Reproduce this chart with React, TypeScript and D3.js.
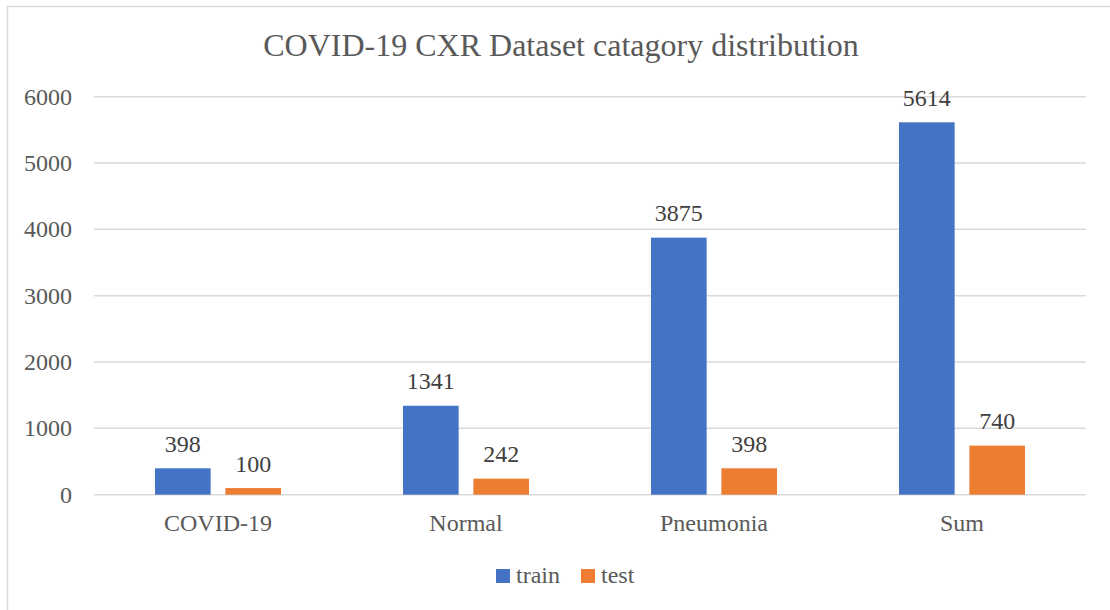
import React, { useEffect, useRef } from 'react';
import * as d3 from 'd3';

const categories = ['COVID-19', 'Normal', 'Pneumonia', 'Sum'];
const trainValues = [398, 1341, 3875, 5614];
const testValues = [100, 242, 398, 740];
const seriesNames = ['train', 'test'];
const yTicks = [0, 1000, 2000, 3000, 4000, 5000, 6000];

const App = () => {
  const ref = useRef<SVGSVGElement | null>(null);

  useEffect(() => {
    if (!ref.current) return;
    const svg = d3.select(ref.current);
    svg.selectAll('*').remove();

    const width = 1110;
    const height = 610;
    const font = '"Liberation Serif", "Times New Roman", serif';
    const textColor = '#595959';
    const colors = ['#4472C4', '#ED7D31'];

    // outer frame
    svg.append('rect')
      .attr('x', 7.5).attr('y', 6.5)
      .attr('width', width + 10).attr('height', height + 10)
      .attr('fill', 'white')
      .attr('stroke', '#d9d9d9').attr('stroke-width', 1.5);

    const left = 94, right = 1086, top = 96.7, bottom = 494.7;

    const x = d3.scaleBand().domain(categories).range([left, right]);
    const x1 = d3.scaleBand().domain(seriesNames).range([-63, 63]).paddingInner(0.21);
    const y = d3.scaleLinear().domain([0, 6000]).range([bottom, top]);

    // gridlines
    svg.append('g').selectAll('line').data(yTicks).enter().append('line')
      .attr('x1', left).attr('x2', right)
      .attr('y1', d => y(d)).attr('y2', d => y(d))
      .attr('stroke', '#d9d9d9').attr('stroke-width', 1.5);

    // y tick labels
    svg.append('g').selectAll('text').data(yTicks).enter().append('text')
      .attr('x', 72).attr('y', d => y(d) + 8)
      .attr('text-anchor', 'end')
      .style('font-family', font).style('font-size', '24px').attr('fill', textColor)
      .text(d => d);

    const series = [trainValues, testValues];
    series.forEach((vals, si) => {
      const g = svg.append('g');
      g.selectAll('rect').data(vals).enter().append('rect')
        .attr('x', (d, i) => (x(categories[i]) as number) + x.bandwidth() / 2 + (x1(seriesNames[si]) as number))
        .attr('y', d => y(d))
        .attr('width', x1.bandwidth())
        .attr('height', d => bottom - y(d))
        .attr('fill', colors[si]);
      g.selectAll('text').data(vals).enter().append('text')
        .attr('x', (d, i) => (x(categories[i]) as number) + x.bandwidth() / 2 + (x1(seriesNames[si]) as number) + x1.bandwidth() / 2)
        .attr('y', d => y(d) - 16.5)
        .attr('text-anchor', 'middle')
        .style('font-family', font).style('font-size', '24px').attr('fill', '#404040')
        .text(d => d);
    });

    // category labels
    svg.append('g').selectAll('text').data(categories).enter().append('text')
      .attr('x', d => (x(d) as number) + x.bandwidth() / 2)
      .attr('y', 531)
      .attr('text-anchor', 'middle')
      .style('font-family', font).style('font-size', '24px').attr('fill', textColor)
      .text(d => d);

    // title
    svg.append('text')
      .attr('x', 561).attr('y', 56)
      .attr('text-anchor', 'middle')
      .style('font-family', font).style('font-size', '32px').attr('fill', textColor)
      .text('COVID-19 CXR Dataset catagory distribution');

    // legend
    const legendX = [496, 581];
    seriesNames.forEach((name, i) => {
      svg.append('rect')
        .attr('x', legendX[i]).attr('y', 569)
        .attr('width', 14).attr('height', 14)
        .attr('fill', colors[i]);
      svg.append('text')
        .attr('x', legendX[i] + 20).attr('y', 583)
        .style('font-family', font).style('font-size', '24px').attr('fill', textColor)
        .text(name);
    });
  }, []);

  return (
    <div style={{ position: 'fixed', left: 0, top: 0, width: 1110, height: 610, background: 'white' }}>
      <svg ref={ref} width={1110} height={610} style={{ display: 'block' }} />
    </div>
  );
};

export default App;
